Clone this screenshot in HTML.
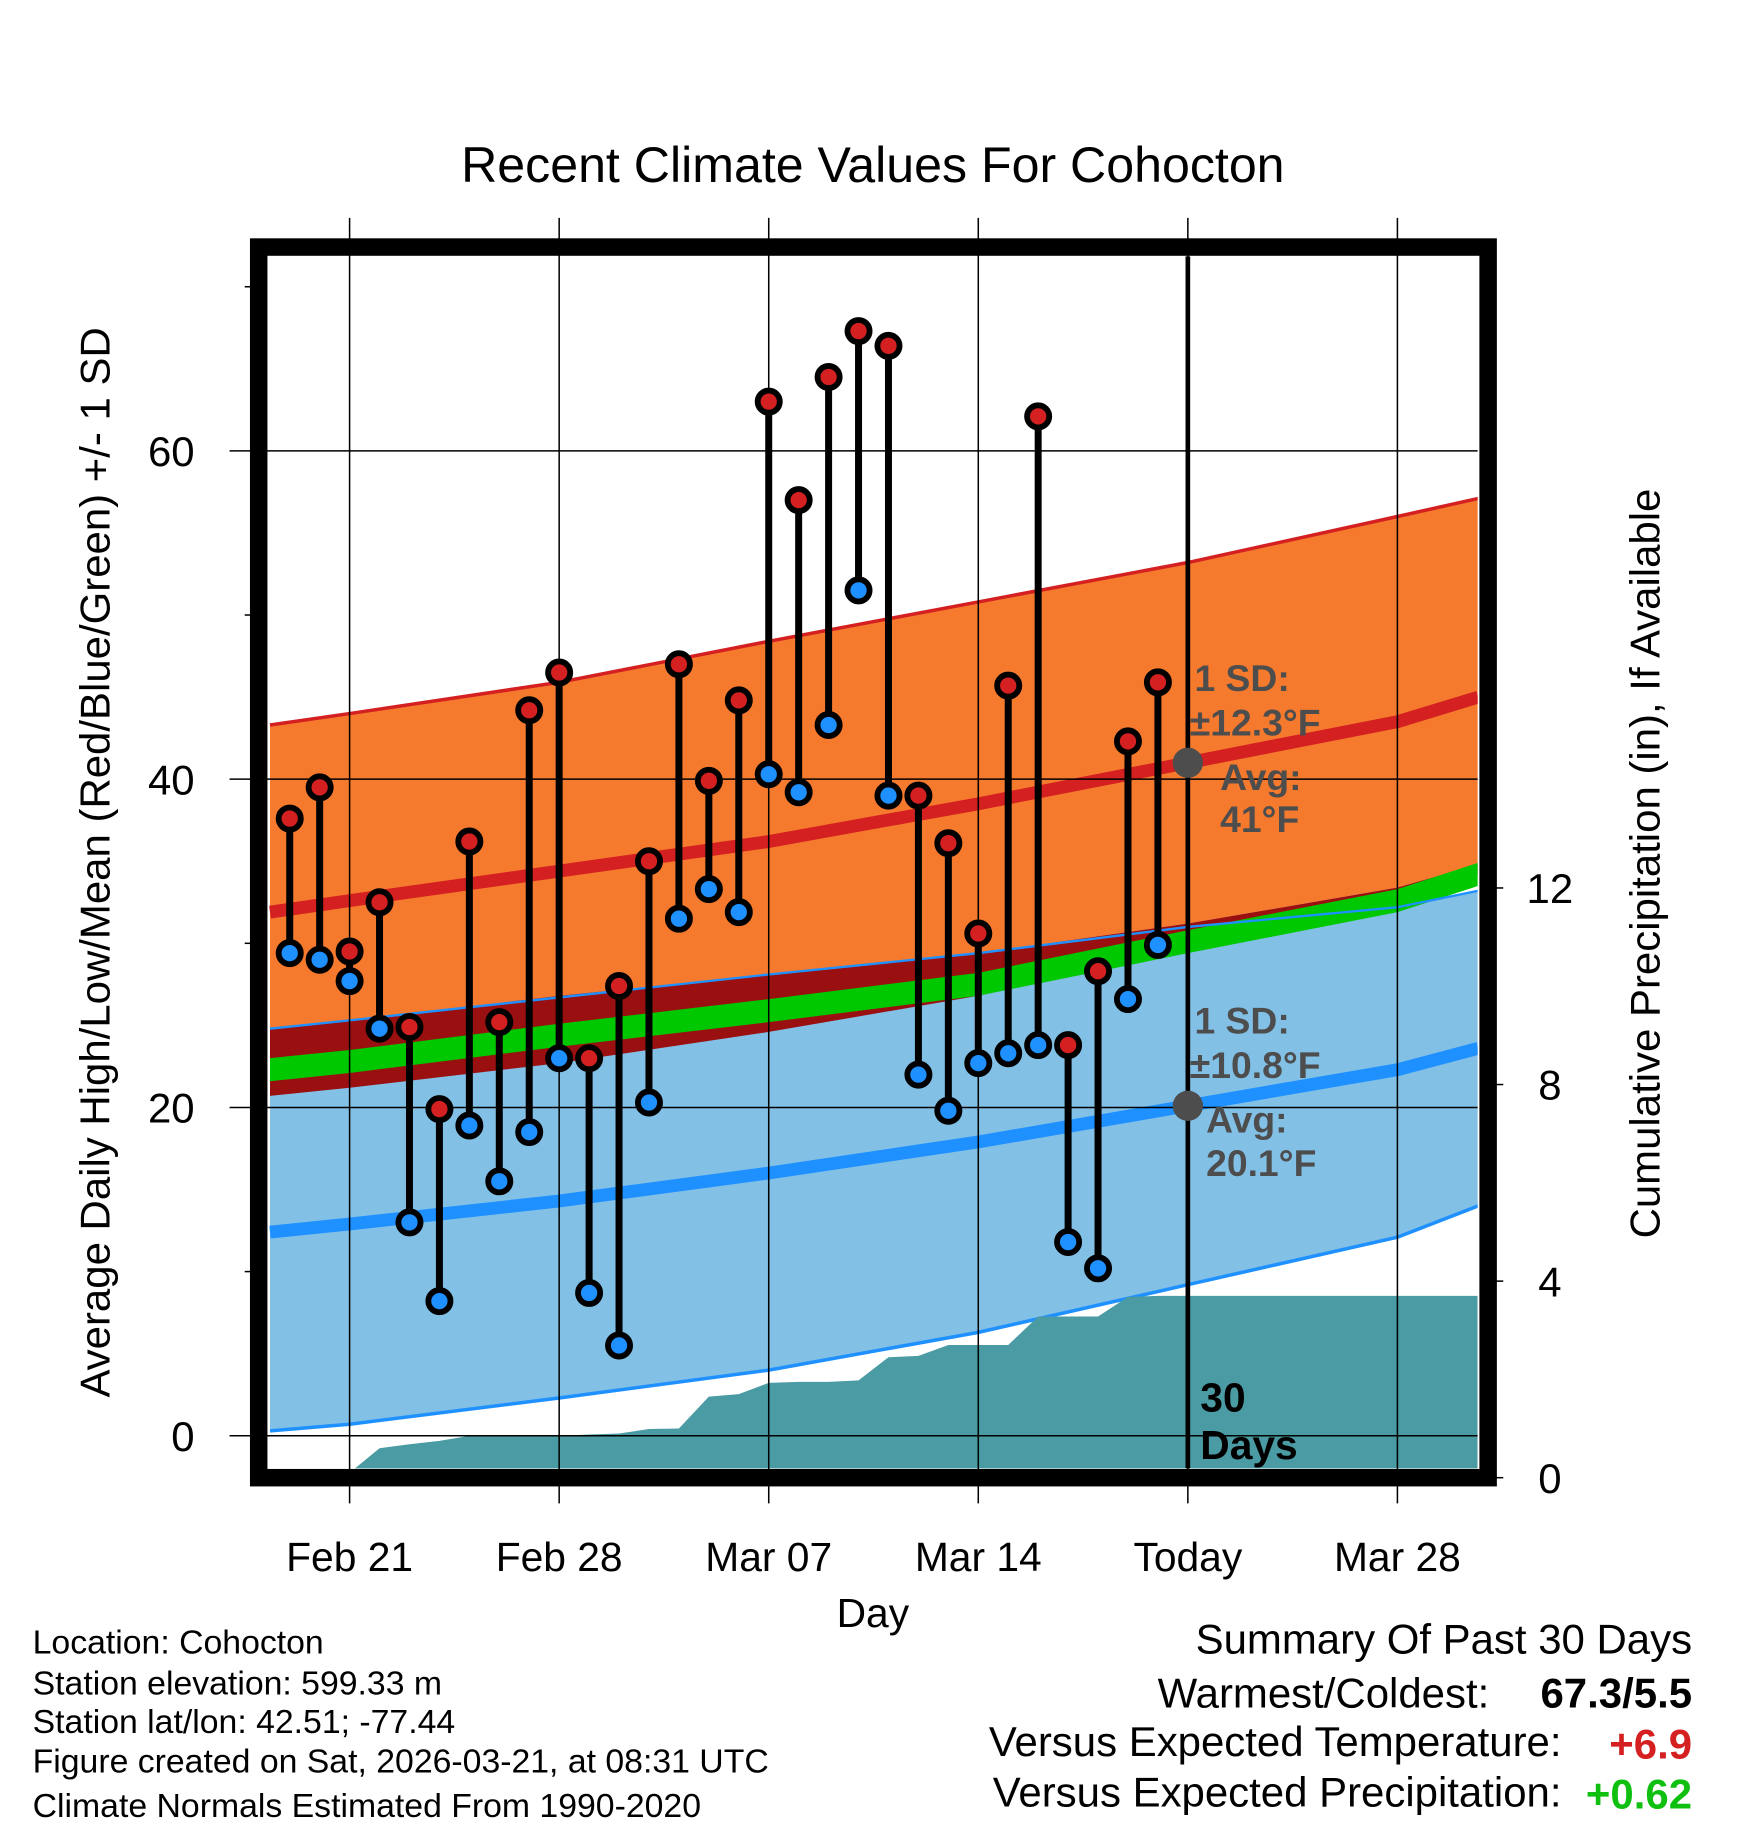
<!DOCTYPE html>
<html><head><meta charset="utf-8"><title>Recent Climate Values For Cohocton</title>
<style>
html,body{margin:0;padding:0;background:#fff;}
svg{display:block;font-family:"Liberation Sans",Arial,sans-serif;}
</style></head>
<body>
<svg id="chart" width="1748" height="1828" viewBox="0 0 1500 1568.6" preserveAspectRatio="none" xmlns="http://www.w3.org/2000/svg">
<text x="749" y="156" font-size="43" text-anchor="middle">Recent Climate Values For Cohocton</text>
<g id="plot"></g>
<text transform="translate(94,740) rotate(-90)" font-size="36" text-anchor="middle">Average Daily High/Low/Mean (Red/Blue/Green) +/- 1 SD</text>
<text transform="translate(1424,741) rotate(-90)" font-size="36" text-anchor="middle">Cumulative Precipitation (in), If Available</text>
<text x="749" y="1396" font-size="35" text-anchor="middle">Day</text>
<g font-size="29">
<text x="28" y="1419">Location: Cohocton</text>
<text x="28" y="1454">Station elevation: 599.33 m</text>
<text x="28" y="1487">Station lat/lon: 42.51; -77.44</text>
<text x="28" y="1521">Figure created on Sat, 2026-03-21, at 08:31 UTC</text>
<text x="28" y="1559">Climate Normals Estimated From 1990-2020</text>
</g>
<g font-size="36" text-anchor="end">
<text x="1452" y="1419">Summary Of Past 30 Days</text>
<text x="1278" y="1465">Warmest/Coldest:</text>
<text x="1452" y="1465" font-weight="bold">67.3/5.5</text>
<text x="1340" y="1507">Versus Expected Temperature:</text>
<text x="1452" y="1509" font-weight="bold" fill="#d42020">+6.9</text>
<text x="1340" y="1550">Versus Expected Precipitation:</text>
<text x="1452" y="1552" font-weight="bold" fill="#10c010">+0.62</text>
</g>
</svg>
<script>
// ---- data ----
const dayLabels = ["Feb 21","Feb 28","Mar 07","Mar 14","Today","Mar 28"];
const labelDays = [0,7,14,21,28,35];
const obsDays = [-2,-1,0,1,2,3,4,5,6,7,8,9,10,11,12,13,14,15,16,17,18,19,20,21,22,23,24,25,26,27];
const highs = [37.6,39.5,29.5,32.5,24.9,19.9,36.2,25.2,44.2,46.5,23.0,27.4,35.0,47.0,39.9,44.8,63.0,57.0,64.5,67.3,66.4,39.0,36.1,30.6,45.7,62.1,23.8,28.3,42.3,45.9];
const lows = [29.4,29.0,27.7,24.8,13.0,8.2,18.9,15.5,18.5,23.0,8.7,5.5,20.3,31.5,33.3,31.9,40.3,39.2,43.3,51.5,39.0,22.0,19.8,22.7,23.3,23.8,11.8,10.2,26.6,29.9];
const precipCum = [0,0.1,0.1,0.6,0.68,0.75,0.85,0.85,0.85,0.85,0.88,0.9,0.99,1.0,1.65,1.7,1.93,1.95,1.95,1.98,2.45,2.48,2.7,2.7,2.7,3.28,3.28,3.28,3.68,3.7];
const normDays = [-2.66,0,7,14,21,28,35,37.7];
const highMean = [31.9,32.6,34.4,36.2,38.5,41.0,43.5,45.0];
const highUpper = [43.3,44.0,45.9,48.4,50.8,53.2,56.0,57.1];
const highLower = [24.8,25.3,26.8,28.1,29.4,31.2,33.4,34.8];
const lowMean = [12.4,12.9,14.3,16.0,17.9,20.1,22.3,23.6];
const lowUpper = [24.8,25.3,26.7,28.1,29.4,31.0,32.2,33.2];
const lowLower = [0.3,0.7,2.3,4.0,6.3,9.2,12.1,14.0];
const meanAvg = [22.3,22.8,24.4,25.9,27.5,30.1,32.6,34.2];
const darkLower = [20.7,21.2,22.7,24.6,26.8,30.1,32.6,34.2];
const yTicks = [0,20,40,60];
const yMinor = [10,30,50,70];
const pTicks = [0,4,8,12];

// ---- scales ----
const X0=231,X1=1268,Y0=220,Y1=1260;
const xs = d => 300 + d*25.69;
const ys = v => 1232 - v*14.085;
const ps = v => 1268 - v*42.17;
const NS="http://www.w3.org/2000/svg";
const plot=document.getElementById('plot');
function el(tag,attrs,parent){const e=document.createElementNS(NS,tag);for(const k in attrs)e.setAttribute(k,attrs[k]);(parent||plot).appendChild(e);return e;}
function pts(days,vals,sc){return days.map((d,i)=>xs(d).toFixed(1)+','+sc(vals[i]).toFixed(1));}
const clip=el('clipPath',{id:'pc'});el('rect',{x:X0,y:Y0,width:X1-X0,height:Y1-Y0},clip);
const g=el('g',{'clip-path':'url(#pc)'});
function bandG(top,bot,fill,name){const p=pts(normDays,top,ys).concat(pts(normDays,bot,ys).reverse());const e=el('polygon',{points:p.join(' '),fill:fill},g);

}
function lineG(vals,stroke,w,name){const e=el('polyline',{points:pts(normDays,vals,ys).join(' '),fill:'none',stroke:stroke,'stroke-width':w},g);

}
bandG(lowUpper,lowLower,'#82c0e6','low-sd-band');
bandG(highUpper,highLower,'#f57a2e','high-sd-band');
bandG(highLower,darkLower,'#9a1010','overlap-band');
const mUp=meanAvg.map(v=>v+0.7), mDn=meanAvg.map(v=>v-0.7);
bandG(mUp,mDn,'#00c800','mean-band');
lineG(highUpper,'#d42020',3,'high-upper-line');
lineG(lowLower,'#1e90ff',3,'low-lower-line');
lineG(lowUpper,'#1e90ff',2,'low-upper-line');
// precip
{const p=[xs(obsDays[1])+','+ps(0)];obsDays.forEach((d,i)=>{if(i>=1)p.push(xs(d)+','+ps(precipCum[i]));});
p.push(X1+','+ps(precipCum[precipCum.length-1]));p.push(X1+','+ps(0));
const e=el('polygon',{points:p.join(' '),fill:'#4a9ba4'},g);

}
lineG(highMean,'#d42020',11,'high-mean-line');
lineG(lowMean,'#1e90ff',11,'low-mean-line');
// grid
labelDays.forEach(d=>{const e=el('line',{x1:xs(d),x2:xs(d),y1:187,y2:1290,stroke:'#000','stroke-width':1.3});

});
yTicks.forEach(v=>{const e=el('line',{x1:197,x2:X1,y1:ys(v),y2:ys(v),stroke:'#000','stroke-width':1.3});


const t=el('text',{x:167,y:ys(v)+13,'font-size':36,'text-anchor':'end'});t.textContent=v;

});
yMinor.forEach(v=>{const e=el('line',{x1:210,x2:222,y1:ys(v),y2:ys(v),stroke:'#000','stroke-width':1.3});

});
pTicks.forEach(v=>{const e=el('line',{x1:1277,x2:1290,y1:ps(v),y2:ps(v),stroke:'#000','stroke-width':1.3});


const t=el('text',{x:1330,y:ps(v)+13,'font-size':36,'text-anchor':'middle'});t.textContent=v;

});
labelDays.forEach((d,i)=>{const t=el('text',{x:xs(d),y:1348,'font-size':35,'text-anchor':'middle'});t.textContent=dayLabels[i];

});
// today line
{const e=el('line',{x1:xs(28),x2:xs(28),y1:Y0,y2:Y1,stroke:'#000','stroke-width':4});

}
// stems + markers
obsDays.forEach((d,i)=>{
  const s=el('line',{x1:xs(d),x2:xs(d),y1:ys(highs[i]),y2:ys(lows[i]),stroke:'#000','stroke-width':6});
  
  
});
obsDays.forEach((d,i)=>{
  const h=el('circle',{cx:xs(d),cy:ys(highs[i]),r:9.5,fill:'#d42020',stroke:'#000','stroke-width':5});
  
  
  const l=el('circle',{cx:xs(d),cy:ys(lows[i]),r:9.5,fill:'#1e90ff',stroke:'#000','stroke-width':5});
  
  
});
// annotations
const tx=xs(28);
[[highMean[5],'today-high-mean-dot'],[lowMean[5],'today-low-mean-dot']].forEach(a=>{const c=el('circle',{cx:tx,cy:ys(a[0]),r:13,fill:'#4d4d4d'});

});
function ann(x,y,txt,name,col,fs){const t=el('text',{x:x,y:y,'font-size':fs||32,'font-weight':'bold',fill:col||'#4d4d4d'});t.textContent=txt;

}
ann(1025,593,'1 SD:','high-sd-label');ann(1021,631,'±12.3°F','high-sd-value');
ann(1047,678,'Avg:','high-avg-label');ann(1047,714,'41°F','high-avg-value');
ann(1025,887,'1 SD:','low-sd-label');ann(1021,925,'±10.8°F','low-sd-value');
ann(1035,972,'Avg:','low-avg-label');ann(1035,1009,'20.1°F','low-avg-value');
ann(1030,1211,'30','days-label-1','#000',35);ann(1030,1252,'Days','days-label-2','#000',35);
// frame
{const f=el('rect',{x:222,y:212,width:1055,height:1056,fill:'none',stroke:'#000','stroke-width':15});

}
</script>
</body></html>
